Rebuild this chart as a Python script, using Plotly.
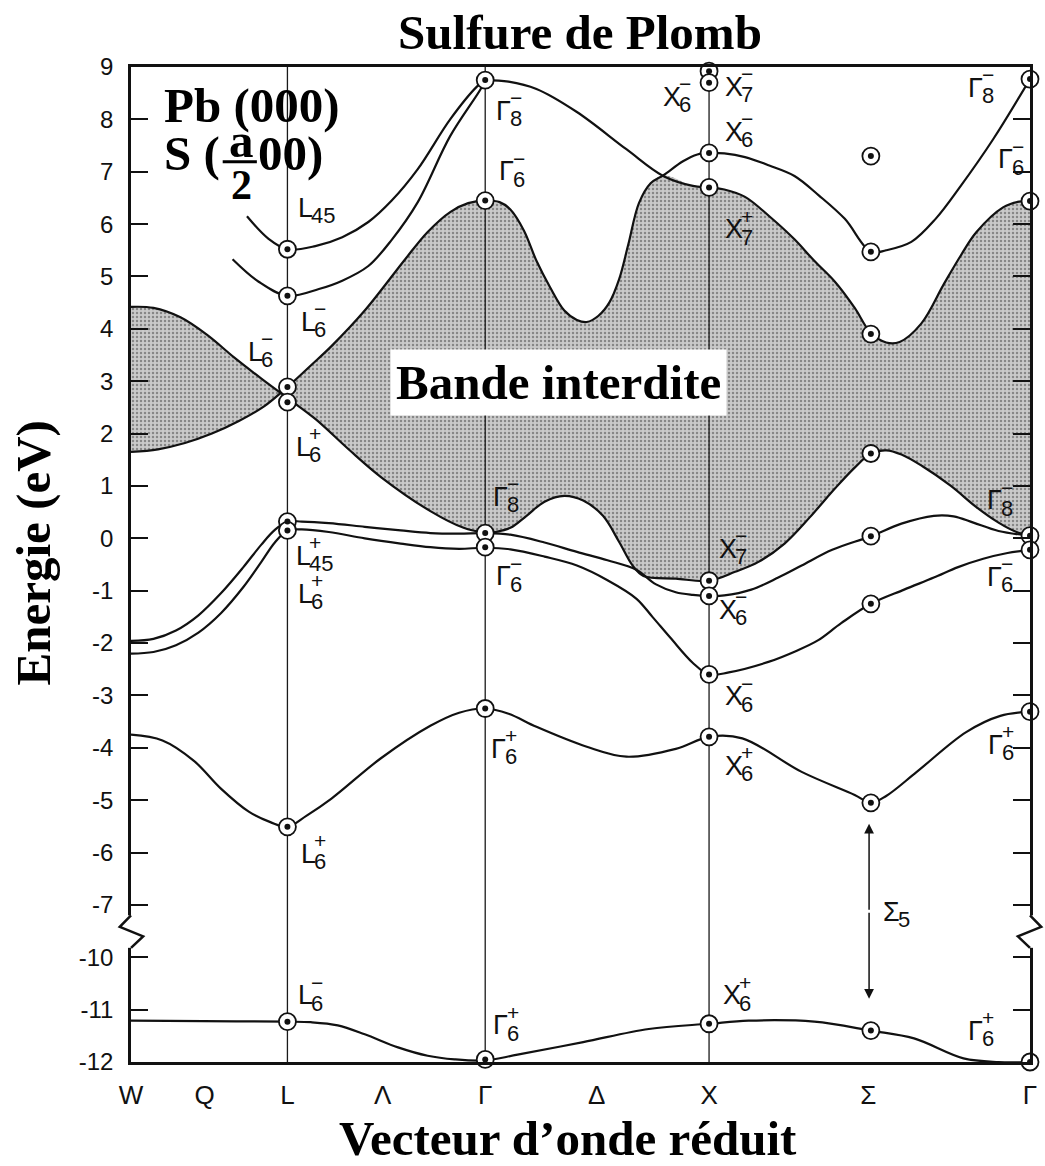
import plotly.graph_objects as go

# ---------------- data ----------------
# reduced wave-vector path W-L-Γ-X-Σ-Γ, total path length scaled to 100
K_W, K_L, K_G, K_X, K_S, K_G2 = 0.0, 17.4, 39.4, 64.3, 82.3, 100.0
k_tick_pos = [0.0, 8.2, 17.4, 28.0, 39.4, 51.8, 64.3, 82.0, 100.0]
k_tick_text = ["W", "Q", "L", "Λ", "Γ", "Δ", "X", "Σ", "Γ"]
energy_ticks = [9, 8, 7, 6, 5, 4, 3, 2, 1, 0, -1, -2, -3, -4, -5, -6, -7, -10, -11, -12]

# conduction band W(4.42) -> L(2.6) -> Γ8-(0.1)
ca_k = [0, 2.5, 5.5, 8.5, 11.5, 14.5, 17.4, 20.5, 24.2, 27.8, 33.3, 37.0, 39.4]
ca_E = [4.42, 4.4, 4.22, 3.88, 3.45, 3.05, 2.68, 2.28, 1.7, 1.17, 0.52, 0.2, 0.1]

# band W(1.65) -> L(2.89) -> Γ6-(6.45) -> Δ min -> X6-(7.36) -> Σ(5.47) -> Γ8-(8.77)
cb_k = [0, 3, 6, 9, 12, 14.8, 17.4, 20.0, 22.3, 26.0, 30.5, 33.0, 35.5, 37.5, 39.4,
        41.0, 42.2, 43.7, 45.1, 46.6, 48.2, 49.6, 50.7, 52.0, 53.2, 54.3, 55.3, 56.5, 57.8,
        59.2, 61.4, 63.0, 64.3, 66.0, 68.3, 71.0, 73.8, 76.5, 79.4, 82.3, 84.0, 86.8, 89.5,
        92.3, 95.9, 100]
cb_E = [1.65, 1.7, 1.82, 2.0, 2.24, 2.52, 2.89, 3.3, 3.67, 4.35, 5.33, 5.85, 6.23, 6.4, 6.45,
        6.42, 6.28, 5.88, 5.3, 4.8, 4.35, 4.17, 4.13, 4.25, 4.5, 4.95, 5.6, 6.4, 6.78,
        6.93, 7.2, 7.33, 7.36, 7.35, 7.28, 7.12, 6.92, 6.55, 6.1, 5.47, 5.5, 5.66, 6.1,
        6.73, 7.62, 8.77]

# band Γ8-(8.75) -> X7+(6.7) -> Σ(3.9) -> Γ6-(6.44)
g8_k = [39.4, 42.0, 45.1, 49.6, 55.1, 59.2, 62.5, 64.3, 66.0, 68.3, 71.0, 73.8, 76.0, 78.3,
        80.5, 82.3, 84.0, 85.5, 87.9, 90.4, 92.3, 94.0, 97.0, 98.8, 100]
g8_E = [8.75, 8.72, 8.58, 8.14, 7.43, 6.92, 6.73, 6.7, 6.66, 6.52, 6.15, 5.71, 5.3, 4.9,
        4.4, 3.92, 3.74, 3.75, 4.1, 4.85, 5.4, 5.84, 6.32, 6.43, 6.44]

# L45 and L6- upper bands rising to Γ8-
l45_k = [12.9, 15.3, 17.4, 20.5, 23.5, 26.4, 29.0, 31.9, 35.5, 38.5, 39.4]
l45_E = [6.15, 5.72, 5.52, 5.58, 5.75, 6.04, 6.45, 7.05, 8.0, 8.63, 8.75]
l6_k = [11.3, 14.2, 17.4, 20.9, 23.5, 26.4, 29.0, 31.9, 35.5, 38.9, 39.4]
l6_E = [5.33, 4.9, 4.63, 4.76, 4.92, 5.2, 5.7, 6.42, 7.68, 8.58, 8.75]

# valence band W(-1.96) -> L45+(0.32) -> Γ8-(0.1) -> X6-(-1.1) -> Σ(0.04) -> Γ8-(0.05)
v1_k = [0, 2.5, 5, 7.5, 10, 12.5, 14.5, 16.0, 17.4, 19.0, 22.0, 26.0, 30.0, 33.3, 36.5,
        39.4, 42.2, 46.0, 49.6, 53.0, 56.2, 58.4, 60.6, 62.5, 64.3, 66.0, 69.0, 72.0, 74.6,
        78.0, 82.3, 85.7, 89.3, 91.5, 93.7, 96.5, 100]
v1_E = [-1.96, -1.92, -1.76, -1.47, -1.05, -0.55, -0.12, 0.16, 0.32, 0.32, 0.29, 0.22,
        0.15, 0.1, 0.09, 0.1, 0.07, -0.08, -0.26, -0.42, -0.6, -0.88, -1.03, -1.08, -1.1,
        -1.09, -0.98, -0.75, -0.52, -0.22, 0.04, 0.28, 0.43, 0.42, 0.3, 0.14, 0.05]

# valence band W(-2.2) -> L6+(0.15) -> Γ6-(-0.17) -> X6-(-2.6) -> Σ(-1.25) -> Γ6-(-0.22)
v2_k = [0, 2.5, 5, 7.5, 10, 12.5, 14.5, 16.0, 17.4, 19.0, 22.0, 26.0, 30.0, 33.3, 36.5,
        39.4, 42.2, 46.0, 49.6, 53.0, 56.2, 58.0, 60.0, 62.5, 64.3, 66.5, 70.9, 74.0, 76.4,
        79.0, 82.3, 86.0, 89.3, 92.0, 94.8, 97.5, 100]
v2_E = [-2.2, -2.17, -2.04, -1.8, -1.43, -0.93, -0.45, -0.08, 0.15, 0.17, 0.12, 0.0,
        -0.1, -0.17, -0.2, -0.18, -0.21, -0.35, -0.52, -0.8, -1.15, -1.5, -1.9, -2.38,
        -2.6, -2.56, -2.36, -2.15, -1.95, -1.62, -1.25, -0.98, -0.75, -0.55, -0.39, -0.28,
        -0.22]

# top valence band Γ8-(0.1) -> hump -> X7-(-0.81) -> Σ(1.62) -> Γ8-(0.05)
hump_k = [39.4, 40.5, 42.2, 44.0, 46.0, 48.2, 50.3, 52.5, 54.3, 55.8, 57.0, 60.6, 64.3,
          67.2, 69.8, 72.7, 75.5, 78.3, 80.5, 82.3, 84.0, 85.7, 88.0, 91.2, 94.0, 96.5,
          98.5, 100]
hump_E = [0.1, 0.12, 0.2, 0.43, 0.7, 0.81, 0.72, 0.43, -0.07, -0.52, -0.72, -0.77, -0.81,
          -0.64, -0.45, -0.1, 0.4, 0.95, 1.35, 1.62, 1.68, 1.6, 1.38, 1.0, 0.6, 0.3, 0.12,
          0.05]

# deep band W(-3.75) -> L6+(-5.51) -> Γ6+(-3.25) -> X6+(-3.79) -> Σ(-5.05) -> Γ6+(-3.31)
deep_k = [0, 3.5, 7, 10, 13.1, 15.5, 17.4, 19.5, 22.3, 27.8, 33.3, 36.5, 39.4, 42.0, 45.1,
          50.7, 55.1, 60.6, 64.3, 68.0, 74.6, 80.5, 82.3, 84.0, 87.4, 92.9, 96.7, 100]
deep_E = [-3.75, -3.86, -4.25, -4.78, -5.22, -5.42, -5.51, -5.3, -4.97, -4.2, -3.58, -3.33,
          -3.25, -3.35, -3.6, -3.98, -4.17, -4.02, -3.79, -3.82, -4.46, -4.9, -5.05, -4.92,
          -4.46, -3.7, -3.39, -3.31]

# lowest band (below the axis break)
low_k = [0, 8, 17.4, 20.0, 23.0, 26.0, 29.7, 33.0, 36.0, 39.4, 43.0, 50.3, 57.6, 64.3, 68.7,
         76.0, 82.3, 87.1, 92.6, 96.5, 100]
low_E = [-11.21, -11.22, -11.23, -11.24, -11.3, -11.47, -11.72, -11.88, -11.95, -11.97,
         -11.86, -11.62, -11.37, -11.27, -11.21, -11.23, -11.4, -11.55, -11.93, -12.0, -12.0]

# circled points at the symmetry points
pts_L = [5.52, 4.63, 2.89, 2.6, 0.32, 0.15, -5.51, -11.23]
pts_G = [8.75, 6.45, 0.1, -0.17, -3.25, -11.95]
pts_X = [8.92, 8.7, 7.36, 6.7, -0.81, -1.1, -2.6, -3.79, -11.27]
pts_S = [7.3, 5.47, 3.9, 1.62, 0.04, -1.25, -5.05, -11.4]
pts_G2 = [8.77, 6.44, 0.05, -0.22, -3.31, -12.0]

# symmetry labels: (k, E, letter, sign, index)
sym_labels = [
    (18.3, 6.31, "L", "", "45"), (18.65, 4.14, "L", "−", "6"), (12.8, 3.56, "L", "−", "6"),
    (18.1, 1.75, "L", "+", "6"), (18.1, -0.33, "L", "+", "45"), (18.3, -1.06, "L", "+", "6"),
    (18.65, -6.02, "L", "+", "6"), (18.3, -10.73, "L", "−", "6"),
    (40.4, 8.16, "Γ", "−", "8"), (40.7, 7.01, "Γ", "−", "6"), (40.0, 0.79, "Γ", "−", "8"),
    (40.4, -0.72, "Γ", "−", "6"), (39.8, -4.02, "Γ", "+", "6"), (40.0, -11.3, "Γ", "+", "6"),
    (58.9, 8.43, "X", "−", "6"), (65.8, 8.62, "X", "−", "7"), (65.8, 7.76, "X", "−", "6"),
    (65.8, 5.9, "X", "+", "7"), (65.2, -0.2, "X", "−", "7"), (65.2, -1.36, "X", "−", "6"),
    (65.9, -3.02, "X", "−", "6"), (65.8, -4.34, "X", "+", "6"), (65.6, -10.73, "X", "+", "6"),
    (92.9, 8.6, "Γ", "−", "8"), (96.2, 7.24, "Γ", "−", "6"), (95.0, 0.73, "Γ", "−", "8"),
    (95.0, -0.73, "Γ", "−", "6"), (95.1, -3.94, "Γ", "+", "6"), (92.9, -11.4, "Γ", "+", "6"),
    (83.4, -7.13, "Σ", "", "5"),
]
sigma5_arrow_E = [-5.45, -10.79]


# ---------------- helpers ----------------
def ymap(e):
    """broken energy axis: the interval -10..-7 eV is compressed to 1 unit"""
    return e if e >= -8.5 else e + 2.0


def seg(ks, es, k0, k1):
    pts = [(k, e) for k, e in zip(ks, es) if k0 - 1e-9 <= k <= k1 + 1e-9]
    return [p[0] for p in pts], [p[1] for p in pts]


SANS = "Liberation Sans"
SERIF = "Liberation Serif"
Y_MIN, Y_MAX = -10.0, 9.0

fig = go.Figure()

pattern = dict(shape=".", fgcolor="#444444", bgcolor="#cacaca", size=4, solidity=0.3)


def add_fill(lo, hi):
    fig.add_trace(go.Scatter(x=lo[0], y=[ymap(e) for e in lo[1]], mode="lines",
                             line=dict(width=0.5, color="rgba(0,0,0,0)", shape="spline"),
                             hoverinfo="skip", showlegend=False))
    fig.add_trace(go.Scatter(x=hi[0], y=[ymap(e) for e in hi[1]], mode="lines",
                             line=dict(width=0.5, color="rgba(0,0,0,0)", shape="spline"),
                             fill="tonexty", fillcolor="#cacaca", fillpattern=pattern,
                             hoverinfo="skip", showlegend=False))


# forbidden-band shading, W-L lens
add_fill(seg(cb_k, cb_E, K_W, K_L), seg(ca_k, ca_E, K_W, K_L))
# forbidden-band shading, L ... Γ
lo_a = seg(ca_k, ca_E, K_L, K_G)
lo_b = seg(hump_k, hump_E, K_G + 0.01, K_G2)
hi_a = seg(cb_k, cb_E, K_L, 59.2)
hi_b = seg(g8_k, g8_E, 62.0, K_G2)
add_fill((lo_a[0] + lo_b[0], lo_a[1] + lo_b[1]), (hi_a[0] + hi_b[0], hi_a[1] + hi_b[1]))

# vertical symmetry lines
for kv in (K_L, K_G, K_X):
    fig.add_trace(go.Scatter(x=[kv, kv], y=[Y_MIN, Y_MAX], mode="lines",
                             line=dict(color="#1a1a1a", width=1.3),
                             hoverinfo="skip", showlegend=False))

# bands
for ks, es in ((ca_k, ca_E), (cb_k, cb_E), (g8_k, g8_E), (l45_k, l45_E), (l6_k, l6_E),
               (v1_k, v1_E), (v2_k, v2_E), (hump_k, hump_E), (deep_k, deep_E),
               (low_k, low_E)):
    fig.add_trace(go.Scatter(x=ks, y=[ymap(e) for e in es], mode="lines",
                             line=dict(color="#111111", width=2.2, shape="spline",
                                       smoothing=1.0),
                             cliponaxis=False, hoverinfo="skip", showlegend=False))

# circled points
ck, ce = [], []
for kv, es in ((K_L, pts_L), (K_G, pts_G), (K_X, pts_X), (K_S, pts_S), (K_G2, pts_G2)):
    for e in es:
        ck.append(kv)
        ce.append(ymap(e))
fig.add_trace(go.Scatter(x=ck, y=ce, mode="markers",
                         marker=dict(symbol="circle", size=17, color="white",
                                     line=dict(color="#111111", width=1.8)),
                         cliponaxis=False, hoverinfo="skip", showlegend=False))
fig.add_trace(go.Scatter(x=ck, y=ce, mode="markers",
                         marker=dict(symbol="circle", size=6, color="#111111"),
                         cliponaxis=False, hoverinfo="skip", showlegend=False))

# ---------------- annotations ----------------
anns = []
main_w = {"L": 14, "Γ": 15, "X": 17, "Σ": 16}
for k, e, letter, sign, idx in sym_labels:
    y = ymap(e)
    anns.append(dict(x=k, y=y, text=letter, xanchor="left", yanchor="middle",
                     showarrow=False, font=dict(family=SANS, size=27, color="#111")))
    if sign:
        anns.append(dict(x=k, y=y, text=sign, xanchor="left", yanchor="middle",
                         xshift=main_w[letter] - 1, yshift=13, showarrow=False,
                         font=dict(family=SANS, size=21, color="#111")))
    if idx:
        anns.append(dict(x=k, y=y, text=idx, xanchor="left", yanchor="middle",
                         xshift=main_w[letter] - 1, yshift=-8, showarrow=False,
                         font=dict(family=SANS, size=22, color="#111")))

big = dict(family=SERIF, size=49, color="black")
anns += [
    dict(x=3.5, y=8.27, text="<b>Pb (000)</b>", xanchor="left", yanchor="middle",
         showarrow=False, font=big),
    dict(x=3.5, y=7.34, text="<b>S (</b>", xanchor="left", yanchor="middle",
         showarrow=False, font=big),
    dict(x=12.25, y=7.6, text="<b>a</b>", xanchor="center", yanchor="middle",
         showarrow=False, font=big),
    dict(x=12.25, y=6.74, text="<b>2</b>", xanchor="center", yanchor="middle",
         showarrow=False, font=dict(family=SERIF, size=42, color="black")),
    dict(x=13.9, y=7.34, text="<b>00)</b>", xanchor="left", yanchor="middle",
         showarrow=False, font=big),
    dict(x=47.5, y=2.97, text="<b>Bande interdite</b>", xanchor="center",
         yanchor="middle", showarrow=False, font=big, bgcolor="white", borderpad=5),
    dict(x=0.486, y=-0.077, xref="paper", yref="paper",
         text="<b>Vecteur d’onde réduit</b>", xanchor="center", yanchor="middle",
         showarrow=False, font=big),
    dict(x=-0.108, y=0.512, xref="paper", yref="paper", text="<b>Energie (eV)</b>",
         textangle=-90, xanchor="center", yanchor="middle", showarrow=False, font=big),
]
# Σ5 double arrow
mid = (ymap(sigma5_arrow_E[0]) + ymap(sigma5_arrow_E[1])) / 2
for e in sigma5_arrow_E:
    anns.append(dict(x=82.1, y=ymap(e), ax=82.1, ay=mid, axref="x", ayref="y", text="",
                     showarrow=True, arrowhead=2, arrowsize=1.3, arrowwidth=1.5,
                     arrowcolor="#111"))

shapes = [
    # fraction bar of a/2
    dict(type="line", x0=10.2, x1=14.0, y0=7.19, y1=7.19, xref="x", yref="y",
         line=dict(color="black", width=3), layer="above"),
]
# axis breaks (left and right)
for xb, sgn in ((0.0, 1), (1.0, -1)):
    shapes.append(dict(type="line", xref="paper", yref="y", x0=xb, x1=xb, y0=-7.2, y1=-7.82,
                       line=dict(color="white", width=7), layer="above"))
    shapes.append(dict(type="path", xref="paper", yref="y",
                       path=f"M {xb},-7.2 L {xb - sgn*0.0125},-7.42 L {xb + sgn*0.0135},-7.6 L {xb},-7.82",
                       line=dict(color="#111", width=2.5), layer="above"))

fig.update_layout(
    width=1045, height=1166,
    margin=dict(l=131, r=8, t=67, b=104),
    paper_bgcolor="white", plot_bgcolor="white",
    showlegend=False, hovermode=False,
    title=dict(text="<b>Sulfure de Plomb</b>", x=580 / 1045, xref="container",
               xanchor="center", y=1 - 32 / 1166, yref="container", yanchor="middle",
               font=dict(family=SERIF, size=49, color="black")),
    annotations=anns, shapes=shapes,
)
fig.update_xaxes(range=[0, 100], showgrid=False, zeroline=False, showline=True,
                 linecolor="#111", linewidth=2.5, mirror=True, ticks="",
                 tickvals=k_tick_pos, ticktext=k_tick_text, ticklabelstandoff=8,
                 tickfont=dict(family=SANS, size=26, color="#111"))
fig.update_yaxes(range=[Y_MIN, Y_MAX], showgrid=False, zeroline=False, showline=True,
                 linecolor="#111", linewidth=2.5, mirror="ticks", ticks="inside",
                 ticklen=17, tickwidth=2, tickcolor="#111",
                 tickvals=[ymap(v) for v in energy_ticks],
                 ticktext=[str(v) for v in energy_ticks], ticklabelstandoff=10,
                 tickfont=dict(family=SANS, size=24, color="#111"))

fig.write_html("out.html")
